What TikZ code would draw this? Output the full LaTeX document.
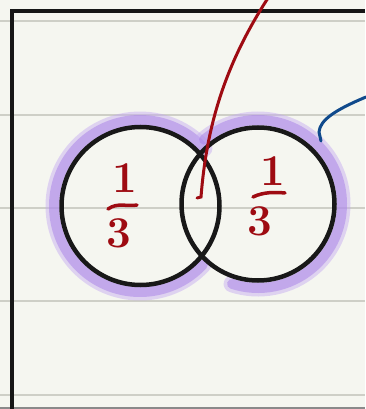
\documentclass[tikz,border=0pt]{standalone}
\definecolor{paper}{RGB}{245,246,240}
\definecolor{rulegray}{RGB}{206,207,199}
\definecolor{edgegray}{RGB}{138,138,138}
\definecolor{framek}{RGB}{22,22,22}
\definecolor{ringk}{RGB}{24,24,24}
\definecolor{hlpurple}{RGB}{168,128,232}
\definecolor{hllight}{RGB}{195,168,242}
\definecolor{inkred}{RGB}{158,11,18}
\definecolor{inkblue}{RGB}{16,74,140}
\begin{document}
\begin{tikzpicture}[x=1pt,y=-1pt,
  rule/.style={draw=rulegray, line width=2pt},
  frameline/.style={draw=framek, line width=4.2pt},
  ring/.style={circle, draw=ringk, line width=4.5pt, inner sep=0pt},
  hl/.style={draw=hlpurple, line width=10pt, opacity=0.5, line cap=round},
  hlwide/.style={draw=hllight, line width=17pt, opacity=0.45, line cap=round},
  ink/.style={draw=inkred, line width=3.5pt, line cap=round},
  digit/.style={text=inkred, inner sep=0pt, font=\fontsize{44}{44}\selectfont\bfseries},
  blueink/.style={draw=inkblue, line width=3pt, line cap=round}
]
\useasboundingbox (0,0) rectangle (365,409);
\fill[paper] (0,0) rectangle (365,409);
% ruled lines
\foreach \yy in {21,115,208,301,395} \draw[rule] (0,\yy) -- (365,\yy);
\draw[draw=edgegray, line width=2pt] (0,408) -- (365,408);
% frame
\draw[frameline] (365,11) -- (12,11) -- (12,409);
% highlights
\draw[hlwide] (140,206) ++(43:86) arc[start angle=43, end angle=318, radius=86];
\draw[hl] (140,206) ++(43:86) arc[start angle=43, end angle=318, radius=86];
\draw[hlwide] (258,204) ++(230:84) arc[start angle=230, end angle=468, radius=84];
\draw[hl] (258,204) ++(230:84) arc[start angle=230, end angle=468, radius=84];
% circles
\node[ring, minimum size=158pt] (L) at (140.5,206) {};
\node[ring, minimum size=153pt] (R) at (258,204) {};
% fractions
\node[digit] (n1) at (125,178) {1};
\node[digit] (d1) at (119,233) {3};
\coordinate (b1a) at (108,209);
\coordinate (b1b) at (137,205);
\draw[ink] (b1a) .. controls (118,202) and (127,207) .. (b1b);
\node[digit] (n2) at (273,171) {1};
\node[digit] (d2) at (260,221) {3};
\coordinate (b2a) at (253,197);
\coordinate (b2b) at (285,193);
\draw[ink] (b2a) .. controls (263,192) and (275,192) .. (b2b);
% red stroke
\coordinate (rtop) at (268,-2);
\coordinate (rbot) at (201,197);
\coordinate (rhook) at (197,198);
\draw[ink, line width=3pt] (rtop) .. controls (228,60) and (207,120) .. (rbot) -- (rhook);
% blue stroke
\coordinate (btop) at (366,97);
\coordinate (bbot) at (321,141);
\draw[blueink] (btop) .. controls (335,110) and (320,120) .. (319,132) -- (bbot);
\end{tikzpicture}
\end{document}
